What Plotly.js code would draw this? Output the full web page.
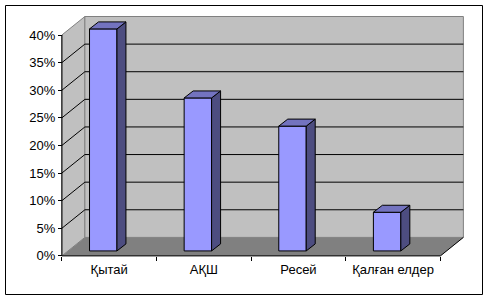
<!DOCTYPE html>
<html>
<head>
<meta charset="utf-8">
<script src="https://cdn.plot.ly/plotly-3.0.1.min.js"></script>
<style>
html,body{margin:0;padding:0;background:#fff;}
#chart{width:491px;height:300px;}
</style>
</head>
<body>
<div id="chart"></div>
<script>
// ---- data ----
const categories = ["Қытай", "АҚШ", "Ресей", "Қалған елдер"];
const values = [40.2, 27.7, 22.6, 7.0];
const yTickVals = [0, 5, 10, 15, 20, 25, 30, 35, 40];
const yTickText = ["0%", "5%", "10%", "15%", "20%", "25%", "30%", "35%", "40%"];

// ---- layout constants ----
const L = 60, T = 16, W = 405, H = 241, FW = 491, FH = 300;
const XR = [-0.52, 3.76], YR = [-0.2, 43.44];
const DX = 0.243, DY = 3.35;          // wall depth offset
const BOFF = -0.063, BW = 0.29;       // bar front face offset / width
const BB = 0.9;                        // bar base above front floor edge
const BDX = 0.095, BDY = 1.27;        // bar depth
const x0 = -0.5, x1 = 3.5, yMax = 40;

const shapes = [];
function poly(pts, fill, line, lw) {
  const p = pts.map((q, i) => (i ? "L" : "M") + q[0] + "," + q[1]).join(" ") + " Z";
  shapes.push({type: "path", xref: "x", yref: "y", path: p, fillcolor: fill,
    line: {color: line, width: lw}, layer: "below"});
}
function seg(xa, ya, xb, yb, color) {
  shapes.push({type: "line", xref: "x", yref: "y", x0: xa, y0: ya, x1: xb, y1: yb,
    line: {color: color, width: 1}, layer: "below"});
}
// left wall
poly([[x0, 0], [x0, yMax], [x0 + DX, yMax + DY], [x0 + DX, DY]], "#c0c0c0", "#808080", 1);
// back wall
poly([[x0 + DX, DY], [x0 + DX, yMax + DY], [x1 + DX, yMax + DY], [x1 + DX, DY]], "#c0c0c0", "#808080", 1);
// floor
poly([[x0, 0], [x1, 0], [x1 + DX, DY], [x0 + DX, DY]], "#808080", "rgba(0,0,0,0)", 0);
// gridlines
yTickVals.forEach(v => {
  if (v > 0 && v < yMax) {
    seg(x0 + DX, v + DY, x1 + DX, v + DY, "#000");
    seg(x0, v, x0 + DX, v + DY, "#000");
  }
});
// floor right edge & axis lines
seg(x1, 0, x1 + DX, DY, "#000");
seg(x0, 0, x1, 0, "#000");
seg(x0, 0, x0, yMax, "#000");
// outer border
const px = v => (v - L) / W, py = v => (T + H - v) / H;
shapes.push({type: "rect", xref: "paper", yref: "paper", x0: px(5.5), x1: px(482.5),
  y0: py(294.5), y1: py(5.5), line: {color: "#000", width: 1}, fillcolor: "rgba(0,0,0,0)"});

const traces = [];
// bar front faces
traces.push({type: "bar", x: categories.map((c, i) => i + BOFF), y: values, base: BB,
  width: BW, marker: {color: "#9999ff", line: {color: "#000", width: 1}},
  hoverinfo: "skip", showlegend: false});
// sides and tops
values.forEach((v, i) => {
  const a = i + BOFF - BW / 2, b = i + BOFF + BW / 2, top = BB + v;
  traces.push({type: "scatter", mode: "lines", fill: "toself", fillcolor: "#4d4d80",
    x: [b, b, b + BDX, b + BDX, b], y: [BB, top, top + BDY, BB + BDY, BB],
    line: {color: "#000", width: 1}, hoverinfo: "skip", showlegend: false});
  traces.push({type: "scatter", mode: "lines", fill: "toself", fillcolor: "#7373bf",
    x: [a, b, b + BDX, a + BDX, a], y: [top, top, top + BDY, top + BDY, top],
    line: {color: "#000", width: 1}, hoverinfo: "skip", showlegend: false});
});
// dummy trace to show boundary ticks
traces.push({type: "scatter", mode: "markers", x: [0], y: [0], xaxis: "x2",
  marker: {opacity: 0}, hoverinfo: "skip", showlegend: false});

const font = {family: "Liberation Sans, Arial, sans-serif", size: 13, color: "#000"};
const layout = {
  width: FW, height: FH,
  margin: {l: L, r: FW - L - W, t: T, b: FH - T - H, pad: 0},
  paper_bgcolor: "#fff", plot_bgcolor: "rgba(0,0,0,0)",
  showlegend: false, hovermode: false, font: font,
  xaxis: {range: XR, tickvals: [0, 1, 2, 3], ticktext: categories, ticks: "",
    showgrid: false, zeroline: false, showline: false, fixedrange: true,
    anchor: "free", position: py(256), tickfont: font, ticklabelstandoff: 4},
  xaxis2: {range: XR, overlaying: "x", anchor: "free", position: py(256),
    tickvals: [-0.5, 0.5, 1.5, 2.5, 3.5], ticks: "outside", ticklen: 4, tickcolor: "#000",
    showticklabels: false, showgrid: false, zeroline: false, showline: false, side: "bottom"},
  yaxis: {range: YR, tickvals: yTickVals, ticktext: yTickText, ticks: "outside", ticklen: 4,
    tickcolor: "#000", showgrid: false, zeroline: false, showline: false, fixedrange: true,
    anchor: "free", position: px(62), tickfont: font},
  shapes: shapes,
  bargap: 0
};
Plotly.newPlot("chart", traces, layout, {displayModeBar: false, staticPlot: true});
</script>
</body>
</html>
